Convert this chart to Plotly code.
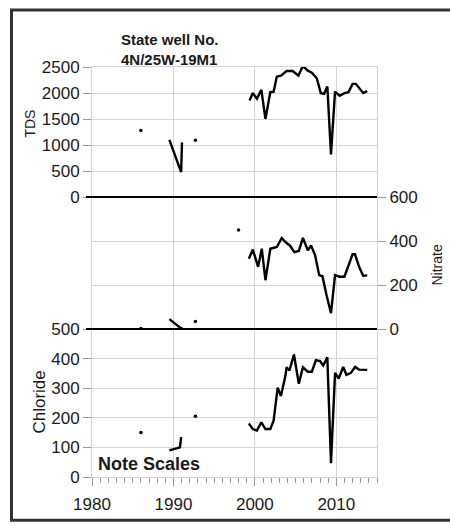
import plotly.graph_objects as go
from plotly.subplots import make_subplots

# ---------------- data ----------------
x_ticks = [1980, 1990, 2000, 2010]
tds_ticks = [0, 500, 1000, 1500, 2000, 2500]
nitrate_ticks = [0, 200, 400, 600]
chloride_ticks = [0, 100, 200, 300, 400, 500]

# TDS
tds_dot_years = [1986.0, 1992.7]
tds_dot_vals = [1280, 1090]
tds_early_years = [1989.5, 1990.95, 1991.05]
tds_early_vals = [1100, 480, 1050]
tds_years = [1999.35, 1999.75, 2000.25, 2000.8, 2001.3, 2001.9, 2002.3, 2002.7,
             2003.2, 2003.9, 2004.65, 2005.35, 2005.9, 2006.5, 2007.0, 2007.6,
             2007.9, 2008.1, 2008.5, 2008.9, 2009.35, 2009.85, 2010.4, 2011.0,
             2011.5, 2012.0, 2012.4, 2013.3, 2013.8]
tds_vals = [1857, 1998, 1889, 2061, 1502, 2017, 2023, 2315,
            2334, 2424, 2424, 2334, 2519, 2430, 2391, 2284,
            2113, 1998, 1985, 2124, 821, 2029, 1947, 1998,
            2017, 2176, 2176, 1998, 2036]

# Nitrate
nitrate_dot_years = [1986.0, 1992.7, 1998.0]
nitrate_dot_vals = [3, 35, 450]
nitrate_early_years = [1989.5, 1990.95, 1991.0]
nitrate_early_vals = [45, 3, 10]
nitrate_years = [1999.26, 1999.75, 2000.4, 2000.85, 2001.3, 2001.9, 2002.7, 2003.3,
                 2003.85, 2004.3, 2004.85, 2005.4, 2005.9, 2006.5, 2006.9, 2007.4,
                 2007.9, 2008.3, 2008.8, 2009.35, 2009.85, 2010.4, 2011.0, 2011.5,
                 2012.0, 2012.3, 2012.8, 2013.3, 2013.8]
nitrate_vals = [320, 361, 283, 365, 222, 365, 373, 414,
                392, 380, 350, 355, 414, 358, 380, 335,
                245, 240, 155, 72, 245, 238, 238, 290,
                340, 340, 283, 242, 244]

# Chloride
chloride_dot_years = [1986.0, 1992.7]
chloride_dot_vals = [150, 205]
chloride_early_years = [1989.5, 1990.8, 1990.95]
chloride_early_vals = [90, 100, 135]
chloride_years = [1999.26, 1999.75, 2000.25, 2000.8, 2001.3, 2001.9, 2002.3, 2002.8,
                  2003.2, 2003.75, 2003.9, 2004.25, 2004.8, 2005.4, 2005.9, 2006.5,
                  2007.0, 2007.5, 2008.0, 2008.4, 2008.9, 2009.35, 2009.85, 2010.3,
                  2010.85, 2011.25, 2011.8, 2012.3, 2012.8, 2013.8]
chloride_vals = [181, 162, 157, 185, 162, 162, 190, 302,
                 274, 341, 371, 360, 414, 315, 371, 356,
                 356, 395, 392, 377, 405, 47, 352, 333,
                 372, 345, 352, 372, 363, 362]

# ---------------- figure ----------------
W, H = 450, 526
ML, MR, MT, MB = 92, 73, 67, 46
PW, PH = W - ML - MR, H - MT - MB

def px_x(px):
    return (px - ML) / PW

def px_y(py):
    return (H - MB - py) / PH

FONT = "Liberation Sans, Arial, sans-serif"
GRID = "#d4d4d4"
LINE_W = 2.4

fig = make_subplots(rows=3, cols=1, shared_xaxes=True, vertical_spacing=0,
                    row_heights=[131, 133, 149])

def add_series(row, dot_x, dot_y, early_x, early_y, main_x, main_y):
    fig.add_trace(go.Scatter(x=dot_x, y=dot_y, mode="markers",
                             marker=dict(color="black", size=3.5),
                             showlegend=False, hoverinfo="skip"), row=row, col=1)
    fig.add_trace(go.Scatter(x=early_x, y=early_y, mode="lines",
                             line=dict(color="black", width=LINE_W),
                             showlegend=False), row=row, col=1)
    fig.add_trace(go.Scatter(x=main_x, y=main_y, mode="lines",
                             line=dict(color="black", width=LINE_W),
                             showlegend=False), row=row, col=1)

add_series(1, tds_dot_years, tds_dot_vals, tds_early_years, tds_early_vals, tds_years, tds_vals)
add_series(2, nitrate_dot_years, nitrate_dot_vals, nitrate_early_years, nitrate_early_vals,
           nitrate_years, nitrate_vals)
add_series(3, chloride_dot_years, chloride_dot_vals, chloride_early_years, chloride_early_vals,
           chloride_years, chloride_vals)

tickfont = dict(family=FONT, size=17, color="#1a1a1a")

for r in (1, 2, 3):
    fig.update_xaxes(range=[1980, 2015], tickvals=x_ticks, showgrid=True,
                     gridcolor=GRID, gridwidth=1, showline=True, mirror=True,
                     linecolor=GRID, linewidth=1, zeroline=False, row=r, col=1)
fig.update_xaxes(showticklabels=True, ticks="outside", ticklen=8, tickcolor="#999",
                 tickfont=tickfont, ticklabelstandoff=4,
                 minor=dict(dtick=1, ticks="outside", ticklen=5, tickcolor="#999", showgrid=False),
                 row=3, col=1)

fig.update_yaxes(range=[0, 2500], tickvals=tds_ticks, row=1, col=1)
fig.update_yaxes(range=[0, 600], tickvals=nitrate_ticks, side="right", row=2, col=1)
fig.update_yaxes(range=[0, 500], tickvals=chloride_ticks, row=3, col=1)
fig.update_yaxes(showgrid=True, gridcolor=GRID, gridwidth=1, showline=True, mirror=True,
                 linecolor=GRID, linewidth=1, zeroline=False, ticks="outside", ticklen=8,
                 tickcolor="#999", tickfont=tickfont)

# heavy separator lines between panels
for py in (198, 331):
    fig.add_shape(type="line", xref="paper", yref="paper", x0=px_x(86), x1=1,
                  y0=px_y(py), y1=px_y(py), line=dict(color="black", width=2), layer="above")

# outer frame (left, top and bottom edges; right edge lies outside the picture)
frame = dict(color="#333333", width=3)
fig.add_shape(type="line", xref="paper", yref="paper", x0=px_x(11.5), x1=px_x(11.5),
              y0=px_y(523.5), y1=px_y(9.5), line=frame, layer="above")
fig.add_shape(type="line", xref="paper", yref="paper", x0=px_x(10), x1=px_x(W),
              y0=px_y(9.5), y1=px_y(9.5), line=frame, layer="above")
fig.add_shape(type="line", xref="paper", yref="paper", x0=px_x(10), x1=px_x(W),
              y0=px_y(523.5), y1=px_y(523.5), line=frame, layer="above")

annots = [
    dict(text="<b>State well No.<br>4N/25W-19M1</b>", x=px_x(119), y=px_y(49),
         xanchor="left", yanchor="middle", align="left",
         font=dict(family=FONT, size=15, color="#1a1a1a")),
    dict(text="<b>Note Scales</b>", x=px_x(96), y=px_y(467),
         xanchor="left", yanchor="middle", align="left",
         font=dict(family=FONT, size=18, color="#1a1a1a")),
    dict(text="TDS", x=px_x(30), y=px_y(124), textangle=-90,
         xanchor="center", yanchor="middle", font=dict(family=FONT, size=14, color="#1a1a1a")),
    dict(text="Chloride", x=px_x(40), y=px_y(405), textangle=-90,
         xanchor="center", yanchor="middle", font=dict(family=FONT, size=17, color="#1a1a1a")),
    dict(text="Nitrate", x=px_x(437), y=px_y(267), textangle=-90,
         xanchor="center", yanchor="middle", font=dict(family=FONT, size=14, color="#1a1a1a")),
]
for a in annots:
    fig.add_annotation(xref="paper", yref="paper", showarrow=False, **a)

fig.update_layout(width=W, height=H, autosize=False,
                  margin=dict(l=ML, r=MR, t=MT, b=MB, pad=0),
                  paper_bgcolor="white", plot_bgcolor="white",
                  showlegend=False, font=dict(family=FONT))

fig.write_html(
    "out.html", config={"displayModeBar": False},
    post_script=("document.documentElement.style.margin='0';"
                 "document.documentElement.style.overflow='hidden';"
                 "document.body.style.margin='0';"
                 "document.body.style.overflow='hidden';"))
